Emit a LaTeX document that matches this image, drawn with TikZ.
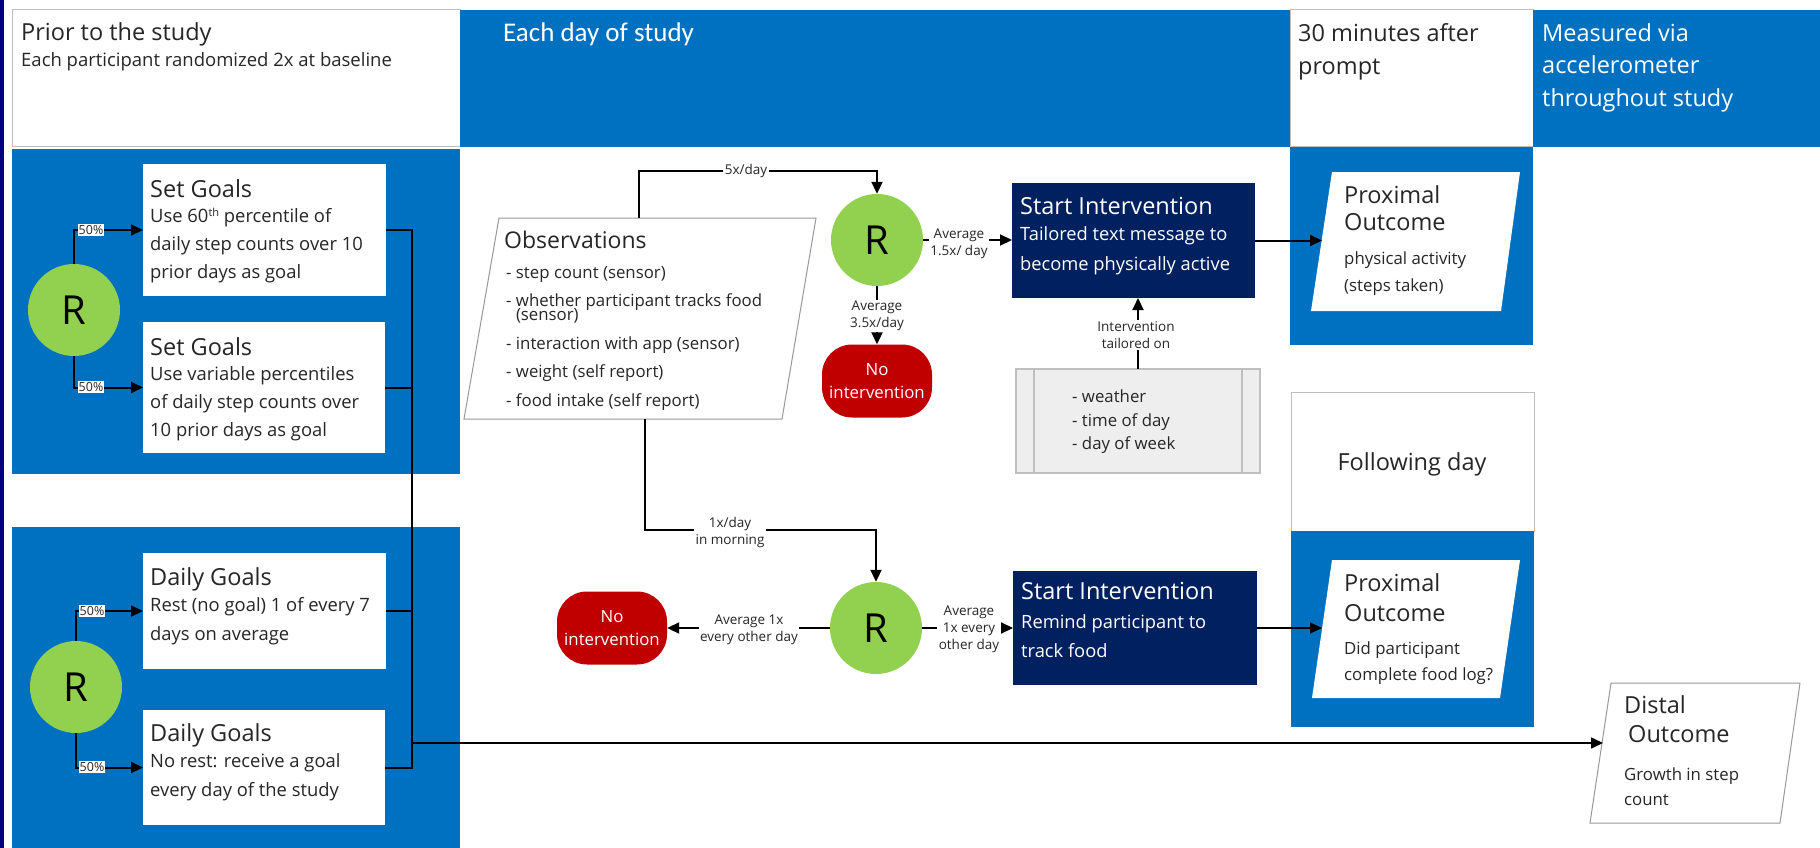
\documentclass[tikz,border=0pt]{standalone}
\usepackage{fontspec}
\setmainfont{Open Sans}
\newfontfamily\calfont{Carlito}
\usetikzlibrary{arrows.meta}
\definecolor{hblue}{HTML}{0070C0}
\definecolor{navy}{HTML}{002060}
\definecolor{rgreen}{HTML}{92D050}
\definecolor{nored}{HTML}{C00000}
\definecolor{strip}{HTML}{000080}
\definecolor{gfill}{HTML}{EEEEEE}
\definecolor{gedge}{HTML}{BFBFBF}
\definecolor{txt}{HTML}{262626}
\newcommand\setfs[2]{\fontsize{#1}{#2}\selectfont}
\begin{document}
\begin{tikzpicture}[x=1pt,y=-1pt,
  conn/.style={line width=2pt,-{Triangle[length=12pt,width=11pt]}},
  wire/.style={line width=2pt},
  panel/.style={anchor=north west,inner sep=0pt,outer sep=0pt},
  wbox/.style={panel,fill=white},
  nbox/.style={panel,fill=navy},
  t/.style={inner sep=0pt,text=txt,align=left},
  rnode/.style={circle,fill=rgreen,minimum size=92pt,inner sep=0pt,font=\setfs{40}{40},text=black},
  noint/.style={rectangle,rounded corners=30pt,fill=nored,minimum width=110pt,minimum height=73pt,inner sep=0pt,text=white,align=center,font=\setfs{16.8}{23}},
  lbl/.style={fill=white,inner sep=1.5pt,align=center,text=txt,font=\setfs{13.5}{17}},
  pct/.style={fill=white,inner sep=1pt,text=txt,font=\setfs{12.5}{14}},
  pgram/.style={draw=gedge!80!black,line width=1pt,fill=white}
]
\useasboundingbox (0,0) rectangle (1820,848);
\fill[white] (0,0) rectangle (1820,848);
\fill[strip] (0,0) rectangle (4,848);

% ---------- header row ----------
\node[wbox,draw=gedge,line width=1pt,minimum width=448pt,minimum height=137pt] (h1) at (12,10) {};
\node[panel,fill=hblue,minimum width=830pt,minimum height=137pt] (h2) at (460,10) {};
\node[wbox,draw=gedge,line width=1pt,minimum width=243pt,minimum height=137pt] (h3) at (1290,10) {};
\node[panel,fill=hblue,minimum width=287pt,minimum height=137pt] (h4) at (1533,10) {};

% ---------- background panels ----------
\fill[hblue] (12,149) rectangle (460,474);
\fill[hblue] (12,527) rectangle (460,848);
\fill[hblue] (1290,147) rectangle (1533,345);
\node[wbox,draw=gedge,line width=1pt,minimum width=243pt,minimum height=139pt] (fd) at (1291,392) {};
\fill[hblue] (1291,531) rectangle (1534,727);

% ---------- left column ----------
\node[rnode] (r1) at (74,310) {R};
\node[rnode] (r2) at (76,687) {R};
\node[wbox,minimum width=243pt,minimum height=132pt] (sg1) at (143,164) {};
\node[wbox,minimum width=242pt,minimum height=131pt] (sg2) at (143,322) {};
\node[wbox,minimum width=243pt,minimum height=116pt] (dg1) at (143,553) {};
\node[wbox,minimum width=242pt,minimum height=115pt] (dg2) at (143,710) {};

% ---------- middle column ----------
\draw[pgram] (499,218) -- (816,218) -- (782,419) -- (464,419) -- cycle;
\coordinate (obstop) at (639,218);
\coordinate (obsbot) at (645,419);
\node[rnode] (rm) at (877,240) {R};
\node[rnode] (rb) at (876,628) {R};
\node[noint] (no1) at (877,381) {No\\intervention};
\node[noint] (no2) at (612,628) {No\\intervention};
\node[nbox,minimum width=243pt,minimum height=115pt] (st1) at (1012,183) {};
\node[nbox,minimum width=244pt,minimum height=114pt] (st2) at (1013,571) {};
\node[panel,fill=gfill,draw=gedge,line width=1.2pt,minimum width=244pt,minimum height=104pt] (gb) at (1016,369) {};
\draw[gedge,line width=1.2pt] ([xshift=18pt]gb.north west) -- ([xshift=18pt]gb.south west);
\draw[gedge,line width=1.2pt] ([xshift=-18pt]gb.north east) -- ([xshift=-18pt]gb.south east);

% ---------- right columns ----------
\fill[white] (1332,172) -- (1520,172) -- (1501,311) -- (1311,311) -- cycle;
\fill[white] (1332,560) -- (1520,560) -- (1500,698) -- (1312,698) -- cycle;
\draw[pgram] (1611,683) -- (1800,683) -- (1780,823) -- (1590,823) -- cycle;
\coordinate (px1in) at (1322,240);
\coordinate (px2in) at (1322,628);
\coordinate (distin) at (1603,743);
\coordinate (bus) at (412,743);

% ---------- connectors ----------
\draw[conn] (r1.north) |- (sg1.west);
\draw[conn] (r1.south) |- (sg2.west);
\draw[conn] (r2.north) |- (dg1.west);
\draw[conn] (r2.south) |- (dg2.west);
\draw[wire] (sg1.east) -| (bus);
\draw[wire] (sg2.east) -| (bus);
\draw[wire] (dg1.east) -| (bus);
\draw[wire] (dg2.east) -| (bus);
\draw[conn,line width=1.6pt] (bus) -- (distin);

\draw[conn] (obstop) -- ++(0,-47) -| (rm.north);
\draw[conn] (rm.east) -- (rm.east -| st1.west);
\draw[conn] (rm.south) -- (no1.north);
\draw[conn] (st1.east) -- (st1.east -| px1in);
\draw[conn] (gb.north) -- (gb.north |- st1.south);
\draw[conn] (obsbot) -- ++(0,111) -| (rb.north);
\draw[conn] (rb.west) -- (no2.east);
\draw[conn] (rb.east) -- (st2.west);
\draw[conn] (st2.east) -- (px2in);

% ---------- labels ----------
\node[pct] (p1) at (91,230) {50\%};
\node[pct] (p2) at (91,387) {50\%};
\node[pct] (p3) at (92,611) {50\%};
\node[pct] (p4) at (92,767) {50\%};
\node[lbl] (l5) at (746,171) {5x/day};
\node[lbl] (l15) at (959,244) {Average\\1.5x/ day};
\node[lbl] (l35) at (877,316) {Average\\3.5x/day};
\node[lbl] (ltl) at (1136,335) {Intervention\\tailored on};
\node[lbl] (lmorn) at (730,532) {1x/day\\in morning};
\node[lbl] (lno2) at (749,630) {Average 1x\\every other day};
\node[lbl] (lst2) at (969,629) {Average\\1x every\\other day};

% ---------- texts ----------
\node[t,anchor=base west,font=\setfs{23.5}{28}] (th1) at (21,41) {Prior to the study};
\node[t,anchor=base west,font=\setfs{18.5}{22}] (th1s) at (21,67) {Each participant randomized 2x at baseline};
\node[t,anchor=base west,font=\calfont\setfs{27}{32},text=white] (th2) at (503,42) {Each day of study};
\node[t,anchor=north west,font=\setfs{23.5}{33}] (th3) at (1298,23) {30 minutes after\\prompt};
\node[t,anchor=north west,font=\setfs{23.5}{32.5},text=white] (th4) at (1542,23) {Measured via\\accelerometer\\throughout study};

\node[t,anchor=north west,font=\setfs{18.4}{28}] (sg1t) at (150,179)
  {{\setfs{23.5}{28}Set Goals}\\[-3pt]Use 60{\setfs{11}{11}\raisebox{6pt}{th}} percentile of\\daily step counts over 10\\prior days as goal};
\node[t,anchor=north west,font=\setfs{18.4}{28}] (sg2t) at (150,337)
  {{\setfs{23.5}{28}Set Goals}\\[-3pt]Use variable percentiles\\of daily step counts over\\10 prior days as goal};
\node[t,anchor=north west,font=\setfs{18.4}{29}] (dg1t) at (150,567)
  {{\setfs{23.5}{29}Daily Goals}\\[-3pt]Rest (no goal) 1 of every 7\\days on average};
\node[t,anchor=north west,font=\setfs{18.4}{29}] (dg2t) at (150,723)
  {{\setfs{23.5}{29}Daily Goals}\\[-3pt]No rest: receive a goal\\every day of the study};

\node[t,anchor=base west,font=\setfs{23}{28}] (obst) at (504,248) {Observations};
\node[t,anchor=north west,font=\setfs{16.8}{28.5}] (obsl) at (506,266)
  {- step count (sensor)\\- whether participant tracks food\\[-14.5pt]\hspace{9.8pt}(sensor)\\- interaction with app (sensor)\\- weight (self report)\\- food intake (self report)};

\node[t,anchor=north west,text=white,font=\setfs{18.3}{30}] (st1t) at (1020,197)
  {{\setfs{23.5}{30}Start Intervention}\\[-4pt]Tailored text message to\\become physically active};
\node[t,anchor=north west,text=white,font=\setfs{18.3}{29}] (st2t) at (1021,582)
  {{\setfs{23.5}{29}Start Intervention}\\Remind participant to\\track food};
\node[t,anchor=north west,font=\setfs{16.8}{23.5}] (gbt) at (1072,390) {- weather\\- time of day\\- day of week};

\node[t,anchor=north west,font=\setfs{16.8}{27}] (px1t) at (1344,185)
  {{\setfs{23.5}{27}Proximal}\\{\setfs{23.5}{27}Outcome}\\[7pt]physical activity\\(steps taken)};
\node[t,anchor=base,font=\setfs{23.5}{28}] (fdt) at (1412,470) {Following day};
\node[t,anchor=north west,font=\setfs{16.8}{26}] (px2t) at (1344,573)
  {{\setfs{23.5}{26}Proximal}\\[4pt]{\setfs{23.5}{26}Outcome}\\[7pt]Did participant\\complete food log?};
\node[t,anchor=north west,font=\setfs{16.8}{25}] (dist) at (1624,695)
  {{\setfs{23.5}{25}Distal}\\[4pt]\hspace{4pt}{\setfs{23.5}{25}Outcome}\\[13pt]Growth in step\\count};
\end{tikzpicture}
\end{document}
